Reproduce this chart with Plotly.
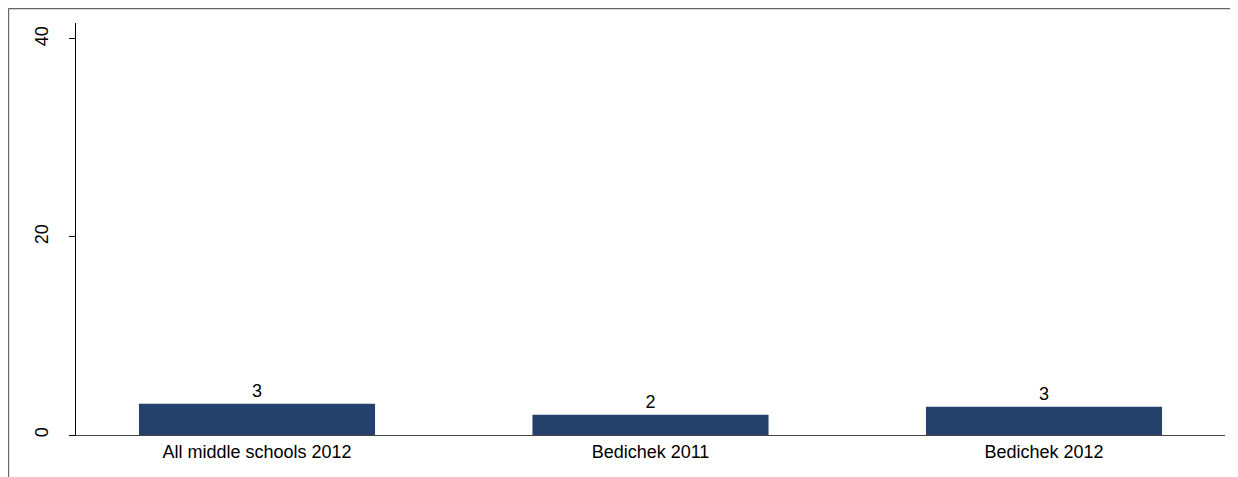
import plotly.graph_objects as go

# categories and values
categories = ["All middle schools 2012", "Bedichek 2011", "Bedichek 2012"]
values = [3.15, 2.05, 2.85]
labels = ["3", "2", "3"]
y_ticks = [0, 20, 40]

bar_color = "#26406C"
font_family = "Liberation Sans, Arial"

fig = go.Figure()
fig.add_trace(go.Bar(
    x=list(range(len(categories))),
    y=values,
    width=0.6,
    marker=dict(color=bar_color, line=dict(width=0)),
    text=labels,
    textposition="outside",
    textfont=dict(family=font_family, size=18, color="#000000"),
    cliponaxis=False,
    hoverinfo="skip",
))

# page body adds an 8px offset, margins compensate for it
fig.update_layout(
    width=1238,
    height=477,
    margin=dict(l=68, r=21, t=15, b=50),
    paper_bgcolor="white",
    plot_bgcolor="white",
    showlegend=False,
    font=dict(family=font_family, size=18, color="#000000"),
)

fig.update_xaxes(
    range=[-0.46, 2.46],
    tickmode="array",
    tickvals=list(range(len(categories))),
    ticktext=categories,
    ticks="",
    showline=True,
    linecolor="#444444",
    linewidth=1,
    showgrid=False,
    zeroline=False,
)

fig.update_yaxes(
    range=[0, 41.6],
    tickmode="array",
    tickvals=y_ticks,
    ticktext=[str(v) for v in y_ticks],
    tickangle=-90,
    ticks="outside",
    ticklen=6,
    tickcolor="#000000",
    ticklabelstandoff=14,
    showline=True,
    linecolor="#000000",
    linewidth=1,
    showgrid=False,
    zeroline=False,
)

# outer frame of the graph region (top and left edges)
fig.add_shape(type="line", xref="paper", yref="paper",
              x0=-0.0588, x1=1.05, y0=1.0352, y1=1.0352,
              line=dict(color="#666666", width=1.5))
fig.add_shape(type="line", xref="paper", yref="paper",
              x0=-0.0588, x1=-0.0588, y0=1.0352, y1=-0.2,
              line=dict(color="#666666", width=1.5))

fig.write_html("out.html")
